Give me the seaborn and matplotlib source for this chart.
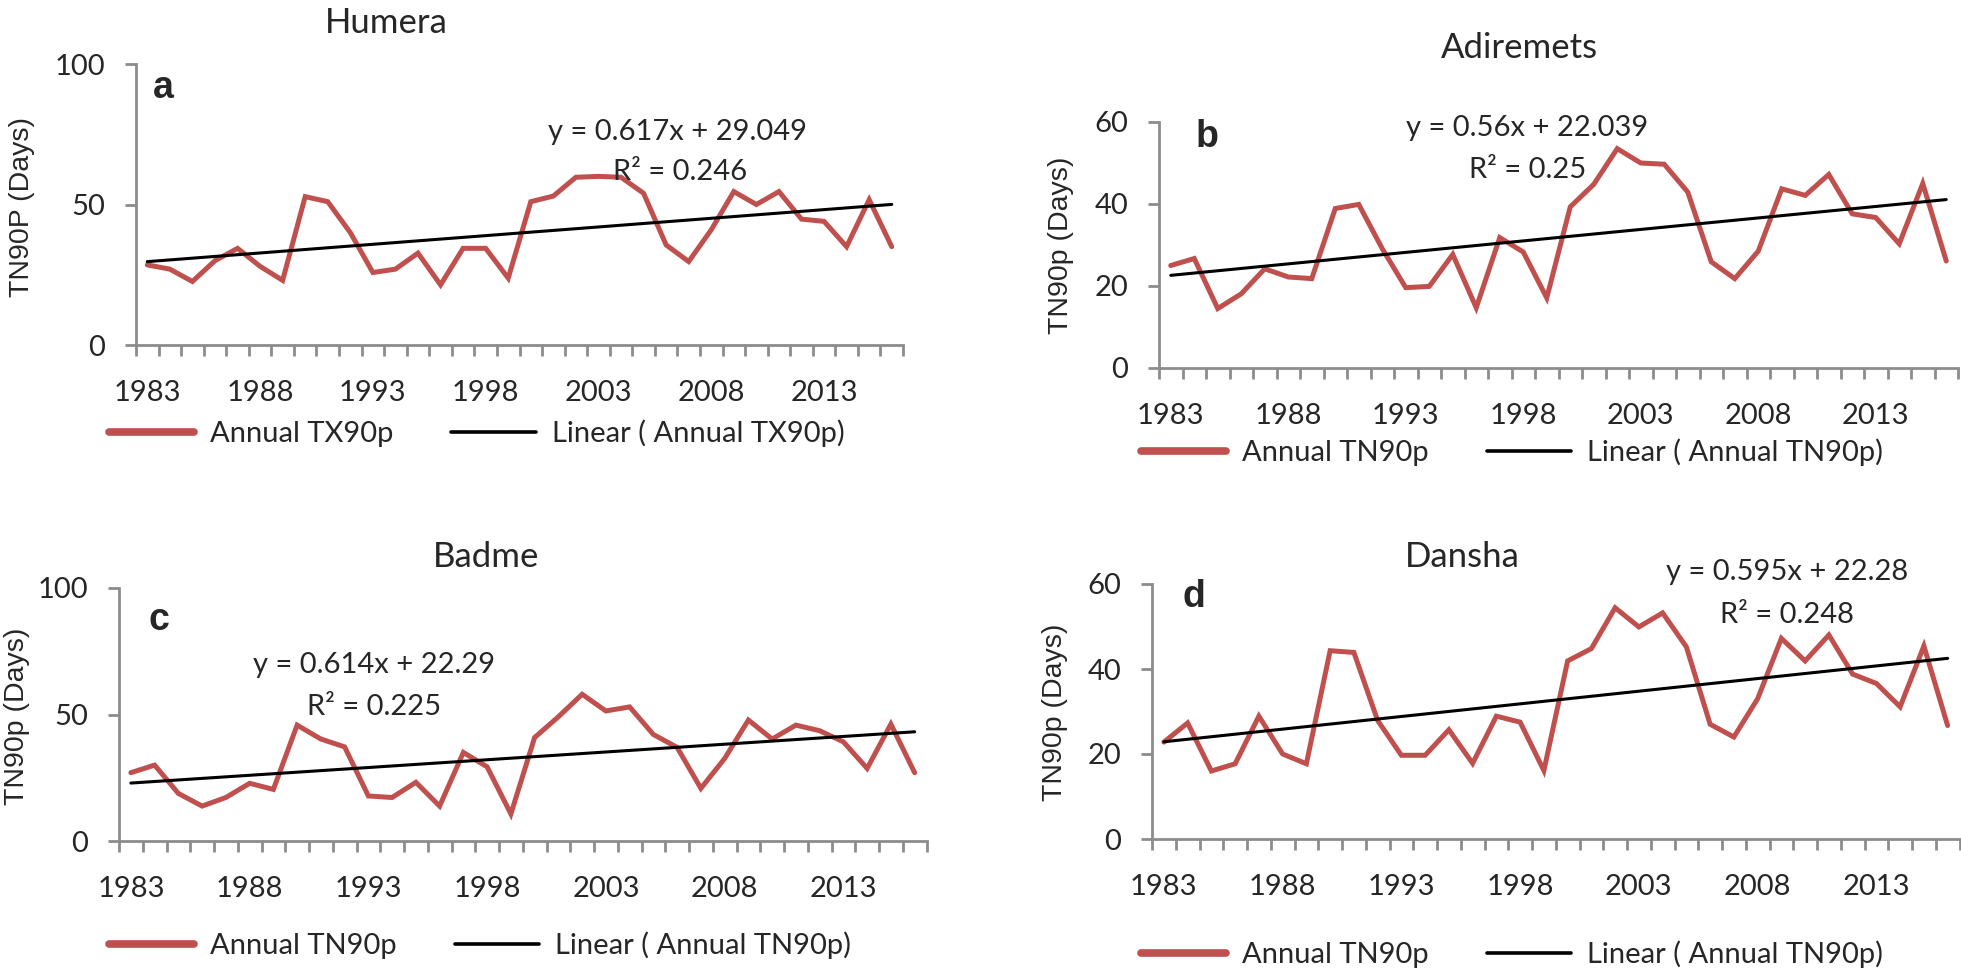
import numpy as np
import pandas as pd
import matplotlib
matplotlib.use("Agg")
import matplotlib.pyplot as plt
from matplotlib.lines import Line2D
import seaborn as sns

# ---------------- data ----------------
years = list(range(1983, 2017))
tick_years = [1983, 1988, 1993, 1998, 2003, 2008, 2013]

humera = [28.5, 27, 22.6, 30, 34.4, 28, 23, 52.8, 51, 40, 25.8, 27, 32.7, 21.4,
          34.4, 34.4, 23.8, 51, 53, 59.7, 60, 59.7, 54, 35.6, 29.7, 41, 54.6, 50,
          54.6, 44.8, 44, 35, 51.7, 35]
adiremets = [25, 26.7, 14.5, 18.1, 24.2, 22.2, 21.8, 38.9, 39.9, 29.1, 19.6, 19.9,
             27.7, 14.7, 31.8, 28.3, 17.1, 39.3, 44.8, 53.5, 50, 49.7, 42.9, 25.9,
             21.8, 28.5, 43.7, 42.1, 47.2, 37.6, 36.7, 30.3, 45, 26.1]
badme = [27, 30, 18.8, 13.8, 17.2, 22.8, 20.4, 45.8, 40.3, 37.2, 17.8, 17.2, 23.2,
         13.8, 35, 29.3, 10.7, 40.9, 49.1, 58, 51.4, 53, 42.1, 37, 20.8, 32.6, 47.8,
         40.3, 45.8, 43.6, 39.2, 28.7, 46.2, 27]
dansha = [22.8, 27.3, 16, 17.7, 28.9, 20, 17.7, 44.3, 43.9, 27.9, 19.7, 19.7, 25.7,
          17.8, 28.9, 27.5, 16.1, 41.9, 44.8, 54.4, 49.9, 53.2, 45.2, 27, 24, 33,
          47.2, 41.9, 48, 38.8, 36.6, 31.1, 45.4, 26.7]

station_names = ["Humera", "Adiremets", "Badme", "Dansha"]
panel_letters = ["a", "b", "c", "d"]
series_values = [humera, adiremets, badme, dansha]
series_labels = ["Annual TX90p", "Annual TN90p", "Annual TN90p", "Annual TN90p"]
trend_labels = ["Linear ( Annual TX90p)", "Linear ( Annual TN90p)",
                "Linear ( Annual TN90p)", "Linear ( Annual TN90p)"]
ylabels = ["TN90P (Days)", "TN90p (Days)", "TN90p (Days)", "TN90p (Days)"]
trend_slopes = [0.617, 0.56, 0.614, 0.595]
trend_intercepts = [29.049, 22.039, 22.29, 22.28]
eq_texts = ["y = 0.617x + 29.049", "y = 0.56x + 22.039", "y = 0.614x + 22.29", "y = 0.595x + 22.28"]
r2_texts = ["R\u00b2 = 0.246", "R\u00b2 = 0.25", "R\u00b2 = 0.225", "R\u00b2 = 0.248"]
y_ticks = [[0, 50, 100], [0, 20, 40, 60], [0, 50, 100], [0, 20, 40, 60]]

# ---------------- layout (pixels) ----------------
W, H = 1961, 974
# axes: left, right, top, bottom
axes_px = [(136, 903, 64, 345), (1159, 1958, 122, 368),
           (119, 926.5, 588, 841), (1152, 1959.5, 584, 839)]
title_px = [(386, 23), (1519, 48), (486, 557), (1462, 557)]
ylabel_px = [(22, 207), (1061, 245), (17, 716), (1055, 712)]
letter_px = [(153, 88), (1196, 137), (148, 620), (1183, 597)]
eq_px = [(678, 132), (1527, 128), (374, 665), (1787, 572)]
r2_px = [(680, 172), (1528, 170), (374, 707), (1787, 615)]
legend_px = [(109, 433), (1141, 452), (109, 945), (1141, 954)]

RED = "#C0504D"
GRAY = "#8C8C8C"
FS = 21

sns.set_theme(style="white")
plt.rcParams["font.family"] = ["Lato", "DejaVu Sans"]

fig = plt.figure(figsize=(W / 100, H / 100), dpi=100)


def fx(x):
    return x / W


def fy(y):
    return 1 - y / H


for i in range(4):
    l, r, t, b = axes_px[i]
    ax = fig.add_axes([fx(l), fy(b), (r - l) / W, (b - t) / H])
    idx = np.arange(len(years))
    df = pd.DataFrame({
        "idx": idx,
        "val": series_values[i],
        "trend": trend_slopes[i] * (idx + 1) + trend_intercepts[i],
    })
    sns.lineplot(data=df, x="idx", y="val", ax=ax, color=RED, linewidth=3.6,
                 legend=False, solid_joinstyle="miter")
    sns.lineplot(data=df, x="idx", y="trend", ax=ax, color="black", linewidth=2.2,
                 legend=False)
    ax.set_xlim(-0.5, len(years) - 0.5)
    ax.set_ylim(0, y_ticks[i][-1])
    ax.set_xlabel("")
    ax.set_ylabel("")
    for s in ["top", "right"]:
        ax.spines[s].set_visible(False)
    for s in ["left", "bottom"]:
        ax.spines[s].set_color(GRAY)
        ax.spines[s].set_linewidth(2.0)
    ax.set_yticks(y_ticks[i])
    ax.set_yticklabels([str(v) for v in y_ticks[i]])
    ax.tick_params(axis="y", left=True, length=8, width=2, color=GRAY, pad=14,
                   labelsize=FS, direction="out")
    ax.set_xticks([years.index(yv) for yv in tick_years])
    ax.set_xticklabels([str(yv) for yv in tick_years])
    ax.set_xticks(np.arange(-0.5, len(years), 1.0), minor=True)
    ax.tick_params(axis="x", which="major", bottom=True, length=0, pad=25, labelsize=FS)
    ax.tick_params(axis="x", which="minor", bottom=True, length=8, width=2,
                   color=GRAY, direction="out")
    ax.grid(False)
    ax.patch.set_alpha(0)

    fig.text(fx(title_px[i][0]), fy(title_px[i][1]), station_names[i], fontsize=25,
             ha="center", va="center")
    fig.text(fx(ylabel_px[i][0]), fy(ylabel_px[i][1]), ylabels[i], fontsize=20.5,
             rotation=90, ha="center", va="center",
             family=["Liberation Sans", "DejaVu Sans"])
    fig.text(fx(letter_px[i][0]), fy(letter_px[i][1]), panel_letters[i], fontsize=27,
             fontweight="bold", ha="left", va="center",
             family=["Liberation Sans", "DejaVu Sans"])
    fig.text(fx(eq_px[i][0]), fy(eq_px[i][1]), eq_texts[i], fontsize=FS,
             ha="center", va="center")
    fig.text(fx(r2_px[i][0]), fy(r2_px[i][1]), r2_texts[i], fontsize=FS,
             ha="center", va="center")

    handles = [Line2D([], [], color=RED, linewidth=5.5),
               Line2D([], [], color="black", linewidth=2.6)]
    fig.legend(handles, [series_labels[i], trend_labels[i]], loc="center left",
               bbox_to_anchor=(fx(legend_px[i][0]), fy(legend_px[i][1])), ncol=2,
               frameon=False, fontsize=FS, handlelength=2.9, handletextpad=0.55,
               columnspacing=2.0, borderpad=0, borderaxespad=0)

fig.savefig("out.png", dpi=100)
